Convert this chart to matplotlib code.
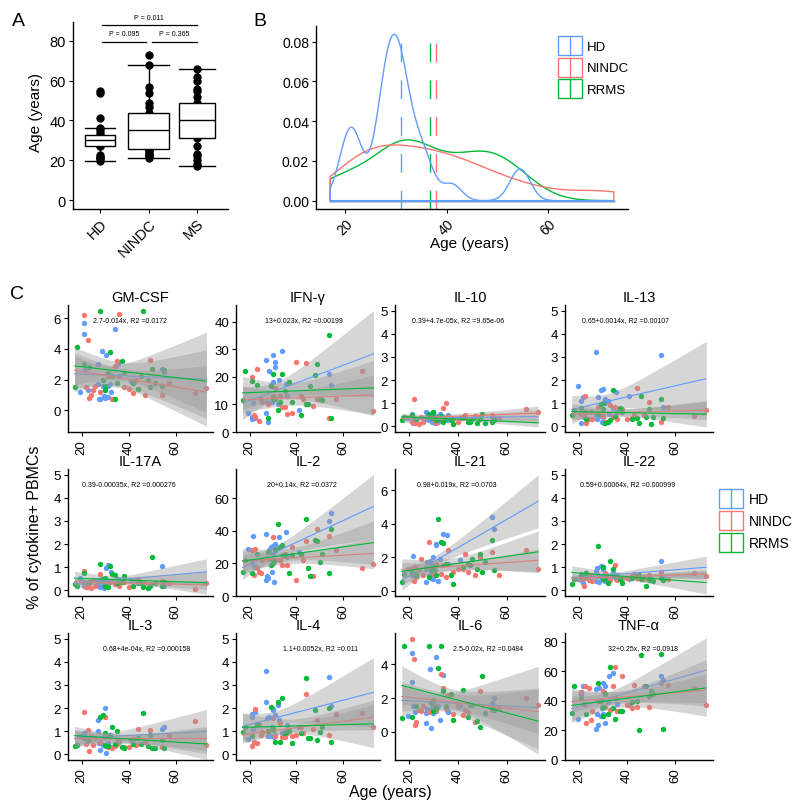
import numpy as np
import matplotlib
matplotlib.use('Agg')
import matplotlib.pyplot as plt
from matplotlib.patches import Rectangle
from matplotlib.lines import Line2D
from matplotlib.legend_handler import HandlerBase

plt.rcParams['font.family'] = ['Liberation Sans', 'DejaVu Sans']

# ---------------- data ----------------
groups = ['HD', 'NINDC', 'RRMS']
colors = ['#619CFF', '#F8766D', '#00BA38']
box_groups = ['HD', 'NINDC', 'MS']

hd_age = [19.5, 21, 21, 22.5, 21.5, 27.5, 27, 27, 28, 28.5, 29, 29.5, 30, 30, 30.5,
          31, 31, 32.5, 32, 34, 35.5, 36, 41, 54, 55]
nindc_age = [21, 22, 22.5, 23, 24, 25, 25.5, 28, 30, 31, 33, 34, 35, 36, 38,
             40, 42, 43, 44, 47, 49, 54, 57, 68, 73]
rrms_age = [17, 18, 21, 23, 30, 45, 28, 29, 30, 31, 32, 33, 34, 35, 37,
            38, 42, 44, 46, 48, 49, 50, 51, 54, 55]
ms_age = [17, 18, 20, 22, 23, 27, 31, 32, 34, 36, 38, 39, 40, 41, 43,
          45, 47, 48, 49, 52, 55, 56, 60, 62, 66]

p_labels = ['P = 0.095', 'P = 0.365', 'P = 0.011']

cytokines = ['GM-CSF', 'IFN-γ', 'IL-10', 'IL-13', 'IL-17A', 'IL-2',
             'IL-21', 'IL-22', 'IL-3', 'IL-4', 'IL-6', 'TNF-α']
equations = ['2.7-0.014x, R2 =0.0172', '13+0.023x, R2 =0.00199',
             '0.39+4.7e-05x, R2 =9.65e-06', '0.65+0.0014x, R2 =0.00107',
             '0.39-0.00035x, R2 =0.000276', '20+0.14x, R2 =0.0372',
             '0.98+0.019x, R2 =0.0703', '0.59+0.00064x, R2 =0.000999',
             '0.68+4e-04x, R2 =0.000158', '1.1+0.0052x, R2 =0.011',
             '2.5-0.02x, R2 =0.0484', '32+0.25x, R2 =0.0918']
y_ticks = [[0, 2, 4, 6], [0, 10, 20, 30, 40], [0, 1, 2, 3, 4, 5], [0, 1, 2, 3, 4, 5],
           [0, 1, 2, 3, 4, 5], [0, 20, 40, 60], [0, 2, 4, 6], [0, 1, 2, 3, 4, 5],
           [0, 1, 2, 3, 4, 5], [0, 1, 2, 3, 4, 5], [0, 2, 4], [0, 20, 40, 60, 80]]
fixed_0_5 = [False, False, True, True, True, False, False, True, True, True, False, False]

gmcsf_hd = [1.15, 5.7, 5.0, 1.3, 2.6, 0.7, 1.7, 3.0, 0.75, 3.85, 1.6, 0.9, 0.8, 1.5, 3.6, 0.85, 1.6, 1.2, 1.7, 5.3, 3.0, 2.2, 1.9, 2.7, 2.5]
gmcsf_nindc = [6.2, 1.5, 4.6, 0.8, 1.0, 1.3, 1.55, 1.2, 1.3, 2.2, 0.7, 2.9, 3.2, 6.3, 1.5, 1.4, 1.1, 2.0, 1.4, 1.0, 3.3, 1.0, 1.8, 1.1, 1.45]
gmcsf_rrms = [1.5, 4.1, 3.0, 2.8, 1.3, 2.2, 6.5, 2.0, 1.6, 2.4, 3.8, 2.2, 0.75, 1.8, 3.2, 2.4, 1.8, 1.4, 6.5, 2.0, 1.5, 2.7, 1.8, 1.6, 2.6]

ifng_hd = [7.0, 4.8, 5.5, 5.2, 10.5, 11, 26, 7, 3.5, 22, 17, 11, 28, 18, 12, 25.5, 23.5, 19, 10, 29.5, 17.5, 13, 8, 21, 17]
ifng_nindc = [20, 6, 5.5, 23, 4, 12, 11, 10, 13, 16, 13, 9, 9, 6.5, 7, 25.5, 13, 12, 25, 9.5, 12, 5, 12, 22, 7.5]
ifng_rrms = [11.5, 22, 18.5, 17, 12, 10, 5, 16.5, 21, 12, 8, 11, 21, 15, 18, 11, 6, 10, 16.5, 20.5, 24.5, 12, 11.5, 35, 5]

il10_hd = [0.35, 0.55, 0.2, 0.3, 0.15, 0.45, 0.3, 0.6, 0.25, 0.4, 0.5, 0.2, 0.35, 0.6, 0.15, 0.45, 0.3, 0.55, 0.2, 0.4, 0.25, 0.5, 0.35, 0.4, 0.35]
il10_nindc = [0.2, 1.2, 0.15, 0.3, 0.1, 0.4, 0.2, 0.5, 0.3, 0.15, 0.25, 0.8, 1.0, 0.4, 0.3, 0.2, 0.35, 0.5, 0.3, 0.45, 0.4, 0.5, 0.35, 0.75, 0.6]
il10_rrms = [0.25, 0.4, 0.5, 0.3, 0.45, 0.2, 0.55, 0.35, 0.6, 0.25, 0.3, 0.45, 0.2, 0.35, 0.25, 0.1, 0.4, 0.2, 0.3, 0.15, 0.3, 0.55, 0.15, 0.2, 0.25]

il13_hd = [1.75, 0.15, 1.1, 0.6, 1.25, 0.3, 3.2, 0.5, 1.25, 0.45, 1.55, 0.2, 1.6, 0.4, 0.15, 1.0, 1.2, 0.55, 1.1, 0.8, 1.5, 0.6, 1.3, 3.1, 0.85]
il13_nindc = [0.55, 0.4, 1.3, 0.15, 0.3, 0.6, 0.3, 0.85, 0.45, 0.2, 0.9, 0.4, 0.85, 0.3, 0.75, 0.3, 0.35, 0.5, 1.65, 0.5, 1.05, 0.2, 0.85, 0.45, 0.7]
il13_rrms = [0.5, 0.7, 0.8, 0.3, 0.75, 0.15, 0.55, 0.95, 1.0, 0.15, 0.2, 0.25, 1.55, 0.45, 0.8, 0.6, 0.3, 0.35, 1.3, 0.4, 0.75, 0.1, 0.4, 1.2, 0.35]

il17a_hd = [0.55, 0.2, 0.35, 0.15, 0.3, 0.2, 0.45, 0.3, 0.15, 0.5, 0.25, 0.1, 0.4, 0.2, 0.95, 1.1, 0.3, 0.8, 0.35, 0.25, 0.5, 0.3, 0.45, 1.05, 0.2]
il17a_nindc = [0.85, 0.15, 0.2, 0.3, 0.1, 0.45, 0.2, 0.7, 0.2, 0.3, 0.4, 0.25, 0.3, 0.2, 0.35, 0.15, 0.2, 0.45, 0.5, 0.3, 0.25, 0.4, 0.3, 0.05, 0.3]
il17a_rrms = [0.25, 0.2, 0.75, 0.35, 0.2, 0.3, 1.15, 0.5, 0.55, 0.15, 1.05, 0.7, 0.65, 0.3, 0.35, 0.6, 0.2, 0.3, 0.15, 0.1, 0.2, 1.45, 0.3, 0.2, 0.35]

il2_hd = [29, 28.5, 20, 18, 37, 12, 38, 10, 11, 28, 30, 15, 31, 26, 8.5, 32, 22, 36, 29.5, 25, 39.5, 24, 27, 46, 51]
il2_nindc = [28.5, 13, 29, 17, 15, 14, 22, 23, 36, 22, 22, 19, 26, 19, 30, 10, 25, 22, 34, 12.5, 41, 37, 28, 17, 19.5]
il2_rrms = [15, 22, 14, 26, 20, 17, 27, 19, 22, 28, 44.5, 30, 31.5, 25, 14, 25, 26, 47, 12.5, 34.5, 34, 21, 26, 14, 41]

il21_hd = [1.3, 0.9, 0.9, 1.4, 2.05, 1.7, 1.3, 0.5, 0.9, 1.75, 0.75, 1.5, 0.7, 2.0, 1.2, 2.8, 2.75, 1.9, 0.55, 3.4, 3.3, 1.6, 1.8, 4.4, 3.7]
il21_nindc = [1.35, 0.6, 1.4, 0.8, 1.25, 1.9, 0.9, 2.9, 1.0, 1.6, 1.0, 1.5, 0.8, 2.4, 1.1, 1.3, 1.3, 2.2, 1.1, 0.9, 2.0, 2.3, 0.95, 2.4, 1.3]
il21_rrms = [0.5, 1.0, 1.1, 0.9, 1.3, 1.55, 0.8, 1.2, 1.3, 0.9, 4.3, 2.9, 2.85, 1.6, 0.95, 0.4, 1.4, 1.6, 1.9, 1.3, 2.2, 1.1, 1.7, 3.0, 1.2]

il22_hd = [0.5, 0.7, 0.45, 0.6, 0.3, 0.95, 0.4, 0.85, 0.65, 0.35, 1.05, 0.55, 1.0, 0.9, 0.45, 0.7, 0.4, 0.6, 0.55, 0.75, 0.5, 0.65, 0.5, 1.25, 0.55]
il22_nindc = [0.5, 0.2, 0.55, 0.75, 0.45, 0.65, 0.4, 0.6, 0.5, 0.75, 0.45, 0.6, 1.1, 0.45, 0.5, 0.55, 0.6, 0.7, 0.55, 0.5, 0.65, 0.8, 0.5, 0.75, 0.6]
il22_rrms = [0.25, 0.5, 0.6, 0.75, 0.5, 0.65, 1.9, 0.6, 1.0, 0.55, 0.3, 1.25, 0.9, 0.6, 0.5, 0.3, 0.55, 0.6, 0.5, 0.2, 0.45, 0.5, 0.4, 0.55, 0.45]

il3_hd = [0.8, 0.9, 0.85, 0.6, 0.7, 0.5, 1.5, 1.0, 0.2, 1.65, 0.4, 0.75, 2.0, 0.35, 0.05, 0.8, 0.5, 0.3, 0.85, 0.45, 0.6, 0.55, 0.6, 1.1, 1.2]
il3_nindc = [1.85, 0.45, 1.05, 0.15, 0.8, 0.4, 0.7, 0.55, 1.6, 0.3, 0.25, 0.35, 0.45, 0.6, 0.3, 0.3, 0.65, 0.4, 1.1, 0.55, 1.05, 0.3, 0.8, 1.45, 0.4]
il3_rrms = [0.35, 0.4, 0.7, 0.6, 0.9, 0.45, 1.6, 1.7, 0.4, 0.35, 0.8, 1.2, 0.45, 1.0, 0.3, 0.25, 0.45, 0.7, 1.8, 0.35, 0.85, 0.25, 0.25, 0.6, 0.25]

il4_hd = [0.65, 1.6, 1.75, 1.85, 1.1, 1.55, 2.25, 3.6, 0.8, 1.6, 0.8, 1.2, 1.95, 1.9, 0.75, 1.7, 0.85, 1.5, 2.15, 0.9, 1.0, 1.25, 1.2, 3.35, 2.1]
il4_nindc = [0.35, 0.55, 1.95, 0.5, 1.3, 0.85, 0.95, 1.0, 1.55, 0.8, 1.35, 0.75, 0.75, 0.9, 0.8, 0.85, 1.2, 0.9, 2.6, 1.1, 1.5, 0.85, 1.75, 1.8, 1.2]
il4_rrms = [0.95, 1.2, 0.8, 1.3, 1.05, 0.7, 1.0, 2.05, 1.1, 0.55, 2.25, 0.55, 2.45, 0.9, 1.0, 0.5, 0.9, 3.3, 0.7, 1.9, 0.6, 0.95, 1.2, 2.0, 0.55]

il6_hd = [0.95, 4.65, 2.95, 1.2, 1.5, 1.35, 0.5, 1.1, 1.3, 3.7, 0.2, 1.4, 1.45, 1.1, 1.6, 4.45, 1.25, 0.7, 1.5, 3.35, 1.3, 1.2, 1.5, 1.7, 2.0]
il6_nindc = [5.5, 4.3, 0.4, 0.6, 1.3, 1.25, 1.5, 1.2, 1.7, 1.3, 3.4, 2.6, 1.4, 2.2, 1.05, 1.5, 1.0, 1.3, 1.2, 0.6, 2.4, 1.3, 1.4, 2.0, 1.6]
il6_rrms = [0.8, 5.05, 0.9, 1.5, 1.25, 1.6, 5.05, 1.7, 1.9, 1.4, 3.8, 5.1, 2.4, 1.5, 2.25, 0.7, 2.5, 0.9, 1.6, 0.65, 0.3, 3.3, 1.1, 1.4, 1.3]

tnf_hd = [28, 45, 46, 38, 50, 31, 21, 48, 24, 49, 30, 35, 52, 31, 46, 50, 25, 57, 39, 59, 42, 38, 37, 57, 54]
tnf_nindc = [46, 38, 50, 25, 49, 27, 33, 40, 47, 36, 34, 50, 63, 33, 57, 37, 35, 51, 36, 50, 36, 52, 51, 49, 37]
tnf_rrms = [32, 50, 42, 31, 36, 20, 52, 40, 30, 45, 31, 63, 35, 28, 33, 33, 39, 40, 71, 50, 43, 47, 45, 72, 21]

panel_values = [
    (gmcsf_hd, gmcsf_nindc, gmcsf_rrms), (ifng_hd, ifng_nindc, ifng_rrms),
    (il10_hd, il10_nindc, il10_rrms), (il13_hd, il13_nindc, il13_rrms),
    (il17a_hd, il17a_nindc, il17a_rrms), (il2_hd, il2_nindc, il2_rrms),
    (il21_hd, il21_nindc, il21_rrms), (il22_hd, il22_nindc, il22_rrms),
    (il3_hd, il3_nindc, il3_rrms), (il4_hd, il4_nindc, il4_rrms),
    (il6_hd, il6_nindc, il6_rrms), (tnf_hd, tnf_nindc, tnf_rrms)]
ages = [hd_age, nindc_age, rrms_age]

T_CRIT = 2.069  # t(0.975, df=23)

# ---------------- layout helpers ----------------
W, H = 800, 812
fig = plt.figure(figsize=(8, 8.12), dpi=100)
fig.patch.set_facecolor('white')


def rect(l, t, w, h):
    return [l / W, 1 - (t + h) / H, w / W, h / H]


def classic(ax, lw=1.0):
    for s in ['top', 'right']:
        ax.spines[s].set_visible(False)
    for s in ['left', 'bottom']:
        ax.spines[s].set_linewidth(lw)
        ax.spines[s].set_color('black')
    ax.tick_params(direction='out', length=3, width=0.8, colors='black', pad=2)
    ax.set_facecolor('none')


class KeyHandler(HandlerBase):
    def create_artists(self, legend, orig_handle, xdescent, ydescent,
                       width, height, fontsize, trans):
        c = orig_handle.get_color()
        r = Rectangle((-xdescent, -ydescent), width, height, fill=False,
                      edgecolor=c, lw=1.0, transform=trans)
        ln = Line2D([-xdescent + width / 2] * 2, [-ydescent, -ydescent + height],
                    color=c, lw=1.0, transform=trans)
        return [r, ln]


def make_legend(x, y, fs, key_px):
    handles = [Line2D([], [], color=c) for c in colors]
    hl = key_px / (fs * 100 / 72)
    return fig.legend(handles, groups, loc='upper left', bbox_to_anchor=(x / W, 1 - y / H),
                      frameon=False, handler_map={Line2D: KeyHandler()},
                      handlelength=hl, handleheight=hl, labelspacing=0.22,
                      handletextpad=0.4, borderpad=0, borderaxespad=0, fontsize=fs)


# ---------------- Panel A ----------------
axA = fig.add_axes(rect(73, 23, 155, 187))
classic(axA)
box_data = [hd_age, nindc_age, ms_age]
for i, g in enumerate(box_data):
    axA.scatter(np.full(len(g), i + 1), g, s=36, color='black', linewidths=0, zorder=3)
widths = [0.62, 0.83, 0.75]
bp = axA.boxplot(box_data, positions=[1, 2, 3], widths=widths, whis=1.5,
                 showfliers=False, patch_artist=True, capwidths=widths)
for b in bp['boxes']:
    b.set(facecolor='white', edgecolor='black', linewidth=1.0, zorder=4)
for m in bp['medians']:
    m.set(color='black', linewidth=1.0, zorder=5)
for w in bp['whiskers']:
    w.set(color='black', linewidth=1.0, zorder=2)
for c in bp['caps']:
    c.set(color='black', linewidth=1.0, zorder=2)
axA.set_xlim(0.44, 3.64)
axA.set_ylim(-4.3, 89.3)
axA.set_yticks([0, 20, 40, 60, 80])
axA.set_xticks([1, 2, 3])
axA.set_xticklabels(box_groups, rotation=45, ha='right', rotation_mode='anchor')
axA.tick_params(labelsize=10.5)
brackets = [(1.035, 1.94, 79.5), (2.07, 2.99, 79.5), (1.035, 2.99, 87.8)]
for (x0, x1, yb), lab in zip(brackets, p_labels):
    axA.plot([x0, x1], [yb, yb], color='black', lw=0.9, clip_on=False)
    axA.text((x0 + x1) / 2, yb + 2.2, lab, ha='center', va='bottom', fontsize=5,
             clip_on=False)
fig.text(36 / W, 1 - 112 / H, 'Age (years)', rotation=90, ha='center', va='center',
         fontsize=11)
fig.text(18 / W, 1 - 22 / H, 'A', ha='center', va='center', fontsize=14)

# ---------------- Panel B ----------------
axB = fig.add_axes(rect(316, 27, 312, 183))
classic(axB)
all_age = np.concatenate([np.asarray(a, float) for a in ages])
grid = np.linspace(all_age.min(), all_age.max(), 512)


def bw_nrd0(x):
    x = np.asarray(x, float)
    q75, q25 = np.percentile(x, [75, 25])
    s = min(np.std(x, ddof=1), (q75 - q25) / 1.34)
    return 0.9 * s * len(x) ** (-0.2)


def kde(x, g):
    x = np.asarray(x, float)
    h = bw_nrd0(x)
    z = (g[:, None] - x[None, :]) / h
    return np.exp(-0.5 * z ** 2).sum(axis=1) / (len(x) * h * np.sqrt(2 * np.pi))


dens = [kde(a, grid) for a in ages]
for i in [2, 1, 0]:
    xs = np.concatenate([[grid[0]], grid, [grid[-1]]])
    ys = np.concatenate([[0], dens[i], [0]])
    axB.fill(xs, ys, facecolor='none', edgecolor=colors[i], lw=1.0, zorder=2 + (2 - i))
    axB.plot([grid[0], grid[-1]], [0, 0], color=colors[i], lw=1.0, zorder=2 + (2 - i))
axB.margins(x=0.05, y=0.05)
for i in range(3):
    axB.axvline(np.mean(ages[i]), color=colors[i], lw=1.0, linestyle=(0, (13.5, 13)),
                zorder=1)
axB.set_xticks([20, 40, 60])
axB.set_xticklabels(['20', '40', '60'], rotation=45, ha='right', rotation_mode='anchor')
axB.set_yticks([0, 0.02, 0.04, 0.06, 0.08])
axB.set_yticklabels(['0.00', '0.02', '0.04', '0.06', '0.08'])
axB.tick_params(labelsize=10)
fig.text(469 / W, 1 - 244 / H, 'Age (years)', ha='center', va='center', fontsize=11)
fig.text(260 / W, 1 - 22 / H, 'B', ha='center', va='center', fontsize=14)
make_legend(558, 37, 9.5, 24)

# ---------------- Panel C ----------------
col_l = [68, 236, 395, 565]
col_w = [145, 144, 150, 148]
row_t = [306, 470, 634]
row_h = 127
eq_x = [0.43, 0.47, 0.42, 0.41, 0.42, 0.46, 0.41, 0.42, 0.54, 0.59, 0.62, 0.53]

xfit = np.linspace(all_age.min(), all_age.max(), 100)
for k, name in enumerate(cytokines):
    r, c = divmod(k, 4)
    ax = fig.add_axes(rect(col_l[c], row_t[r], col_w[c], row_h))
    classic(ax)
    vals = panel_values[k]
    for i in range(3):
        ax.scatter(ages[i], vals[i], s=15, color=colors[i], linewidths=0, zorder=1)
    for i in range(3):
        x = np.asarray(ages[i], float)
        y = np.asarray(vals[i], float)
        b, a = np.polyfit(x, y, 1)
        res = y - (a + b * x)
        n = len(x)
        s = np.sqrt((res ** 2).sum() / (n - 2))
        sxx = ((x - x.mean()) ** 2).sum()
        yfit = a + b * xfit
        se = s * np.sqrt(1 / n + (xfit - x.mean()) ** 2 / sxx)
        ax.fill_between(xfit, yfit - T_CRIT * se, yfit + T_CRIT * se,
                        color='#999999', alpha=0.4, linewidth=0, zorder=2)
        ax.plot(xfit, yfit, color=colors[i], lw=0.8, zorder=2)
    ax.margins(x=0.05, y=0.05)
    if fixed_0_5[k]:
        ax.set_ylim(-0.25, 5.25)
    ax.set_yticks(y_ticks[k])
    ax.set_xticks([20, 40, 60])
    ax.set_xticklabels(['20', '40', '60'], rotation=90, ha='center', va='top')
    ax.tick_params(labelsize=9.5)
    ax.set_title(name, fontsize=10.5, pad=3)
    ax.text(eq_x[k], 0.885, equations[k], transform=ax.transAxes, ha='center',
            va='center', fontsize=5)

fig.text(35 / W, 1 - 527 / H, '% of cytokine+ PBMCs', rotation=90, ha='center',
         va='center', fontsize=11.5)
fig.text(390 / W, 1 - 793 / H, 'Age (years)', ha='center', va='center', fontsize=11.5)
fig.text(17 / W, 1 - 295 / H, 'C', ha='center', va='center', fontsize=14)
make_legend(719, 490, 10, 24)

fig.savefig('out.png', dpi=100, facecolor='white')
